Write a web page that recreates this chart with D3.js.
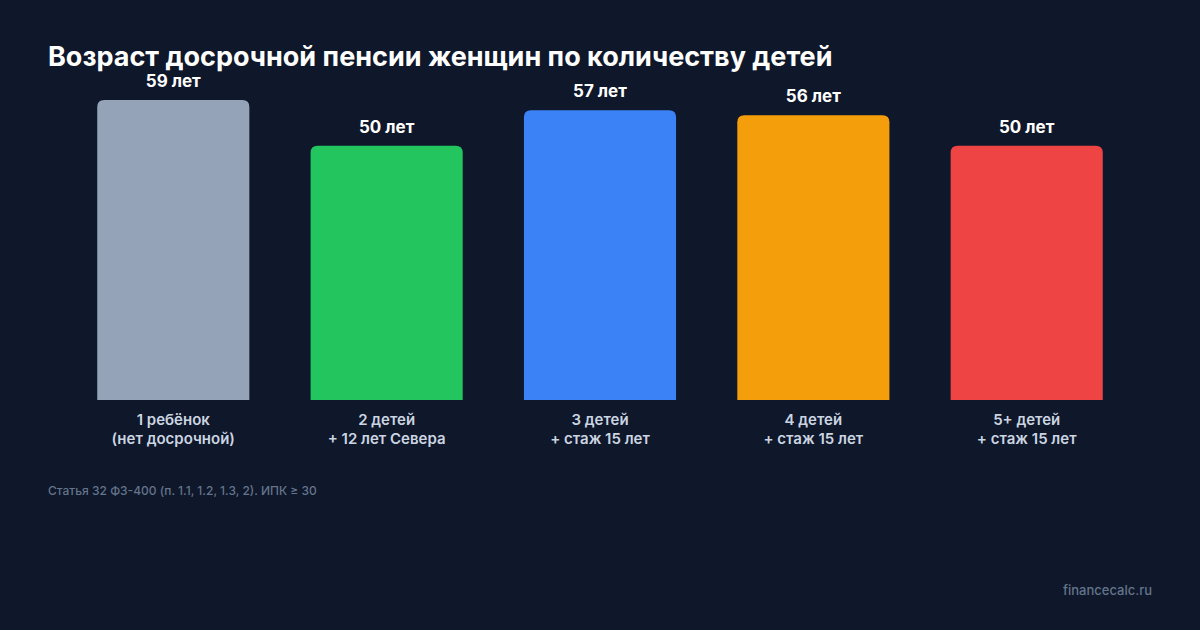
<!DOCTYPE html><html><head><meta charset="utf-8">
<script src="https://cdn.jsdelivr.net/npm/d3@7"></script>
<style>body{margin:0;background:#0f172a}svg{display:block}</style></head><body>
<svg id="c" width="1200" height="630"></svg>
<script>
const categories=[["1 ребёнок","(нет досрочной)"],["2 детей","+ 12 лет Севера"],["3 детей","+ стаж 15 лет"],["4 детей","+ стаж 15 лет"],["5+ детей","+ стаж 15 лет"]];
const values=[59,50,57,56,50];
const colors=["#94a3b8","#22c55e","#3b82f6","#f59e0b","#ef4444"];
const svg=d3.select("#c");
const F="Inter, 'Noto Sans', sans-serif";
svg.append("rect").attr("width",1200).attr("height",630).attr("fill","#0f172a");
svg.append("text").attr("x",48).attr("y",66).attr("fill","#fff").attr("font-family",F).attr("font-weight",700).attr("font-size",27).text("Возраст досрочной пенсии женщин по количеству детей");
const x=d3.scaleBand().domain(d3.range(values.length)).range([36,1164]).padding(0.287);
const y=d3.scaleLinear().domain([0,59]).range([400,100]);
const r=7;
values.forEach((v,i)=>{
  const x0=x(i),w=x.bandwidth(),t=y(v),b=y(0);
  svg.append("path").attr("fill",colors[i]).attr("d",`M${x0},${b}V${t+r}Q${x0},${t} ${x0+r},${t}H${x0+w-r}Q${x0+w},${t} ${x0+w},${t+r}V${b}Z`);
  svg.append("text").attr("x",x0+w/2).attr("y",t-13).attr("text-anchor","middle").attr("fill","#fff").attr("font-family",F).attr("font-weight",700).attr("font-size",17).text(v+" лет");
  categories[i].forEach((l,j)=>svg.append("text").attr("x",x0+w/2).attr("y",425+j*19).attr("text-anchor","middle").attr("fill","#cbd5e1").attr("font-family",F).attr("font-weight",600).attr("font-size",15).text(l));
});
svg.append("text").attr("x",48).attr("y",495).attr("fill","#64748b").attr("font-family",F).attr("font-weight",500).attr("font-size",12).text("Статья 32 ФЗ-400 (п. 1.1, 1.2, 1.3, 2). ИПК ≥ 30");
svg.append("text").attr("x",1152).attr("y",595).attr("text-anchor","end").attr("fill","#64748b").attr("font-family",F).attr("font-weight",500).attr("font-size",13).text("financecalc.ru");
</script></body></html>
